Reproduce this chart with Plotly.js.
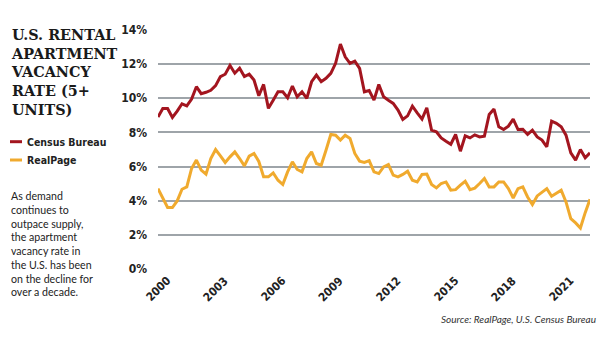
<!DOCTYPE html>
<html>
<head>
<meta charset="utf-8">
<script src="https://cdn.plot.ly/plotly-3.0.1.min.js"></script>
<style>html,body{margin:0;padding:0;background:#fff;}#chart{width:604px;height:342px;}</style>
</head>
<body>
<div id="chart"></div>
<script>
// Quarterly data, 2000 Q1 onward
const startYear = 2000;
const quarterStep = 0.25;
const censusBureau = [
  8.9, 9.4, 9.4, 8.88, 9.25, 9.68, 9.56, 9.95, 10.68, 10.27, 10.35, 10.47, 10.74, 11.27, 11.41, 11.92, 11.47, 11.76, 11.27, 11.41, 11.07, 10.15,
  10.81, 9.41, 9.89, 10.38, 10.38, 10.03, 10.72, 10.09, 10.38, 9.99, 10.97, 11.36, 10.97, 11.17, 11.46, 12.05, 13.18, 12.43, 12.05, 12.18, 11.75, 10.38,
  10.45, 9.89, 10.81, 10.09, 9.89, 9.7, 9.31, 8.76, 8.97, 9.54, 9.15, 8.78, 9.44, 8.13, 8.04, 7.68, 7.49, 7.31, 7.88, 6.9, 7.8, 7.68,
  7.86, 7.74, 7.78, 9.05, 9.37, 8.33, 8.17, 8.37, 8.78, 8.17, 8.19, 7.88, 8.13, 7.74, 7.55, 7.16, 8.66, 8.53, 8.33, 7.84, 6.8, 6.38, 7.0, 6.51, 6.8
];
const realPage = [
  4.71, 4.16, 3.6, 3.6, 3.99, 4.67, 4.81, 5.89, 6.38, 5.79, 5.55, 6.47, 7.0, 6.63, 6.24, 6.57, 6.86, 6.47, 6.04, 6.61, 6.77, 6.3,
  5.4, 5.4, 5.63, 5.2, 4.95, 5.69, 6.28, 5.83, 5.69, 6.47, 6.86, 6.18, 6.08, 6.96, 7.88, 7.84, 7.55, 7.84, 7.65, 6.77, 6.32, 6.24,
  6.35, 5.69, 5.59, 5.98, 6.12, 5.5, 5.4, 5.54, 5.73, 5.2, 5.1, 5.54, 5.56, 4.95, 4.75, 5.01, 5.1, 4.62, 4.65, 4.91, 5.14, 4.65,
  4.74, 5.01, 5.3, 4.81, 4.81, 5.1, 5.1, 4.71, 4.16, 4.71, 4.81, 4.22, 3.78, 4.28, 4.52, 4.71, 4.26, 4.42, 4.62, 3.93, 2.95, 2.7, 2.4, 3.3, 4.09
];
const seriesNames = ["Census Bureau", "RealPage"];
const seriesColors = ["#a3151f", "#f0aa2e"];
const xTickYears = [2000, 2003, 2006, 2009, 2012, 2015, 2018, 2021];
const xTickLabels = ["2000", "2003", "2006", "2009", "2012", "2015", "2018", "2021"];
const titleLines = ["U.S. RENTAL", "APARTMENT", "VACANCY", "RATE (5+", "UNITS)"];
const noteLines = ["As demand", "continues to", "outpace supply,", "the apartment", "vacancy rate in", "the U.S. has been", "on the decline for", "over a decade."];
const sourceText = "Source: RealPage, U.S. Census Bureau";

// plot box in pixels
const L = 158, R = 590, T = 30, B = 269;
const px = p => (p - L) / (R - L);
const py = p => (B - p) / (B - T);

const narrow = '"Liberation Sans Narrow", "DejaVu Sans Condensed", "DejaVu Sans", sans-serif';

const traces = [censusBureau, realPage].map((vals, k) => ({
  type: 'scatter', mode: 'lines',
  x0: startYear, dx: quarterStep, y: vals,
  name: seriesNames[k],
  line: {color: seriesColors[k], width: 3, shape: 'linear'},
  hoverinfo: 'skip', showlegend: false
}));

const annotations = [];
annotations.push({
  xref: 'paper', yref: 'paper', x: px(9), y: py(24), xanchor: 'left', yanchor: 'top',
  text: titleLines.join('<br>'), showarrow: false, align: 'left',
  font: {family: '"DejaVu Serif", serif', size: 14.4, weight: 'bold', color: '#1a1a1a'}
});
const legendY = [141.7, 160];
seriesNames.forEach((n, k) => {
  annotations.push({
    xref: 'paper', yref: 'paper', x: px(25), y: py(legendY[k]), xanchor: 'left', yanchor: 'middle',
    text: n, showarrow: false,
    font: {family: narrow, size: 10.5, weight: 'bold', stretch: 'condensed', color: '#222'}
  });
});
annotations.push({
  xref: 'paper', yref: 'paper', x: px(9), y: py(188), xanchor: 'left', yanchor: 'top',
  text: noteLines.join('<br>'), showarrow: false, align: 'left',
  font: {family: 'Lato, "Open Sans", sans-serif', size: 10.6, color: '#222'}
});
annotations.push({
  xref: 'paper', yref: 'paper', x: px(598), y: py(319), xanchor: 'right', yanchor: 'middle',
  text: sourceText, showarrow: false,
  font: {family: 'Lato, "Open Sans", sans-serif', size: 10, style: 'italic', color: '#333'}
});
// x tick labels, rotated and centred on their year
xTickYears.forEach((yr, i) => {
  annotations.push({
    xref: 'x', yref: 'paper', x: yr, y: py(289), xanchor: 'center', yanchor: 'middle',
    text: xTickLabels[i], showarrow: false, textangle: -45,
    font: {family: narrow, size: 11.5, weight: 'bold', stretch: 'condensed', color: '#222'}
  });
});

const shapes = legendY.map((yy, k) => ({
  type: 'line', xref: 'paper', yref: 'paper',
  x0: px(10), x1: px(22), y0: py(yy), y1: py(yy),
  line: {color: seriesColors[k], width: 3}
}));

const layout = {
  width: 604, height: 342,
  margin: {l: L, r: 604 - R, t: T, b: 342 - B, pad: 0},
  paper_bgcolor: '#fff', plot_bgcolor: '#fff',
  showlegend: false,
  xaxis: {
    range: [startYear, startYear + quarterStep * (censusBureau.length - 1)],
    showgrid: false, zeroline: false, showline: false, ticks: '',
    tickmode: 'array', tickvals: xTickYears, ticktext: xTickLabels,
    showticklabels: false
  },
  yaxis: {
    range: [0, 14], dtick: 2, tick0: 0, ticksuffix: '%',
    showgrid: true, gridcolor: '#9ea4a9', gridwidth: 2,
    zeroline: false, showline: false, ticks: '',
    ticklabelstandoff: 10,
    tickfont: {family: narrow, size: 12, weight: 'bold', stretch: 'condensed', color: '#222'}
  },
  annotations: annotations,
  shapes: shapes
};

Plotly.newPlot('chart', traces, layout, {displayModeBar: false, staticPlot: true});
</script>
</body>
</html>
